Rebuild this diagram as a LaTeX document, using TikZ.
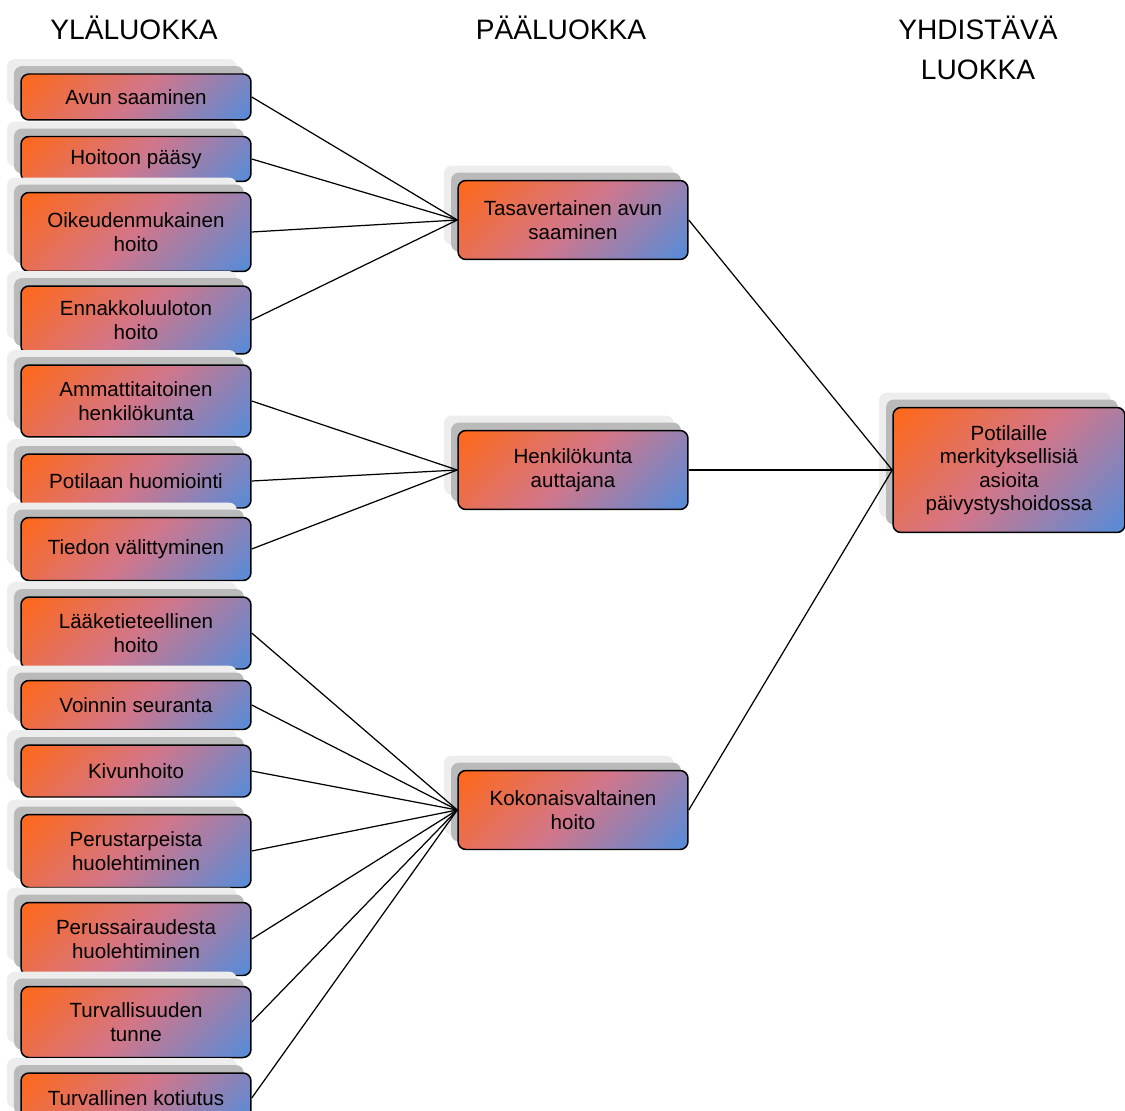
\documentclass[tikz,border=0pt]{standalone}
\usepackage{fontspec}
\setmainfont{Liberation Sans}
\usepackage{xcolor}
\usepackage{tikz}
\usetikzlibrary{shadows}
\definecolor{laOranssi}{RGB}{255,104,24}
\definecolor{laPinkki} {RGB}{210,118,138}
\definecolor{laSini}   {RGB}{84,140,218}
\pgfdeclareverticalshading{laLiuku}{100bp}{color(0bp)=(laSini); color(15bp)=(laSini);
  color(50bp)=(laPinkki); color(85bp)=(laOranssi); color(100bp)=(laOranssi)}

\begin{document}
\begin{tikzpicture}[x=0.02cm,y=-0.02cm,
    laatikko/.style={draw=black,line width=0.85pt,rounded corners=4.5pt,
      shading=laLiuku,shading angle=45,
      general shadow={fill=black!7,shadow xshift=-8pt,shadow yshift=8.5pt},
      general shadow={fill=black!27,shadow xshift=-4pt,shadow yshift=4.5pt},
      align=center,inner sep=2pt,font=\fontsize{11.7}{13.6}\selectfont},
    yla/.style={laatikko,minimum width=4.6cm},
    paa/.style={laatikko,minimum width=4.6cm,minimum height=1.58cm},
    otsikko/.style={align=center,font=\fontsize{16}{22.7}\selectfont},
    yhteys/.style={draw=black,line width=0.7pt}]
  \useasboundingbox (0,0) rectangle (1125,1111);
  % Otsikot
  \node[otsikko] (o1) at (134,28) {YLÄLUOKKA};
  \node[otsikko] (o2) at (561,28) {PÄÄLUOKKA};
  \node[otsikko] (o3) at (978,48) {YHDISTÄVÄ\\LUOKKA};
  % Yläluokat
  \node[yla,minimum height=0.92cm] (y1)  at (136,97)   {Avun saaminen};
  \node[yla,minimum height=0.90cm] (y2)  at (136,159)  {Hoitoon pääsy};
  \node[yla,minimum height=1.58cm] (y3)  at (136,232)  {Oikeudenmukainen\\hoito};
  \node[yla,minimum height=1.36cm] (y4)  at (136,320)  {Ennakkoluuloton\\hoito};
  \node[yla,minimum height=1.44cm] (y5)  at (136,401)  {Ammattitaitoinen\\henkilökunta};
  \node[yla,minimum height=1.08cm] (y6)  at (136,481)  {Potilaan huomiointi};
  \node[yla,minimum height=1.26cm] (y7)  at (136,549)  {Tiedon välittyminen};
  \node[yla,minimum height=1.44cm] (y8)  at (136,633)  {Lääketieteellinen\\hoito};
  \node[yla,minimum height=0.98cm] (y9)  at (136,705)  {Voinnin seuranta};
  \node[yla,minimum height=1.04cm] (y10) at (136,771)  {Kivunhoito};
  \node[yla,minimum height=1.46cm] (y11) at (136,851)  {Perustarpeista\\huolehtiminen};
  \node[yla,minimum height=1.46cm] (y12) at (136,939)  {Perussairaudesta\\huolehtiminen};
  \node[yla,minimum height=1.42cm] (y13) at (136,1022) {Turvallisuuden\\tunne};
  \node[yla,minimum height=1.00cm] (y14) at (136,1098) {Turvallinen kotiutus};
  % Pääluokat
  \node[paa] (p1) at (573,220) {Tasavertainen avun\\saaminen};
  \node[paa] (p2) at (573,470) {Henkilökunta\\auttajana};
  \node[paa] (p3) at (573,810) {Kokonaisvaltainen\\hoito};
  % Yhdistävä luokka
  \node[laatikko,minimum width=4.64cm,minimum height=2.5cm,font=\fontsize{11.7}{13.4}\selectfont]
    (yh) at (1009,470) {Potilaille\\merkityksellisiä\\asioita\\päivystyshoidossa};
  % Yhteydet
  \foreach \i in {1,...,4} \draw[yhteys] (y\i.east) -- (p1.west);
  \foreach \i in {5,...,7} \draw[yhteys] (y\i.east) -- (p2.west);
  \foreach \i in {8,...,14} \draw[yhteys] (y\i.east) -- (p3.west);
  \foreach \i in {1,2,3} \draw[yhteys] (p\i.east) -- (yh.west);
\end{tikzpicture}
\end{document}
